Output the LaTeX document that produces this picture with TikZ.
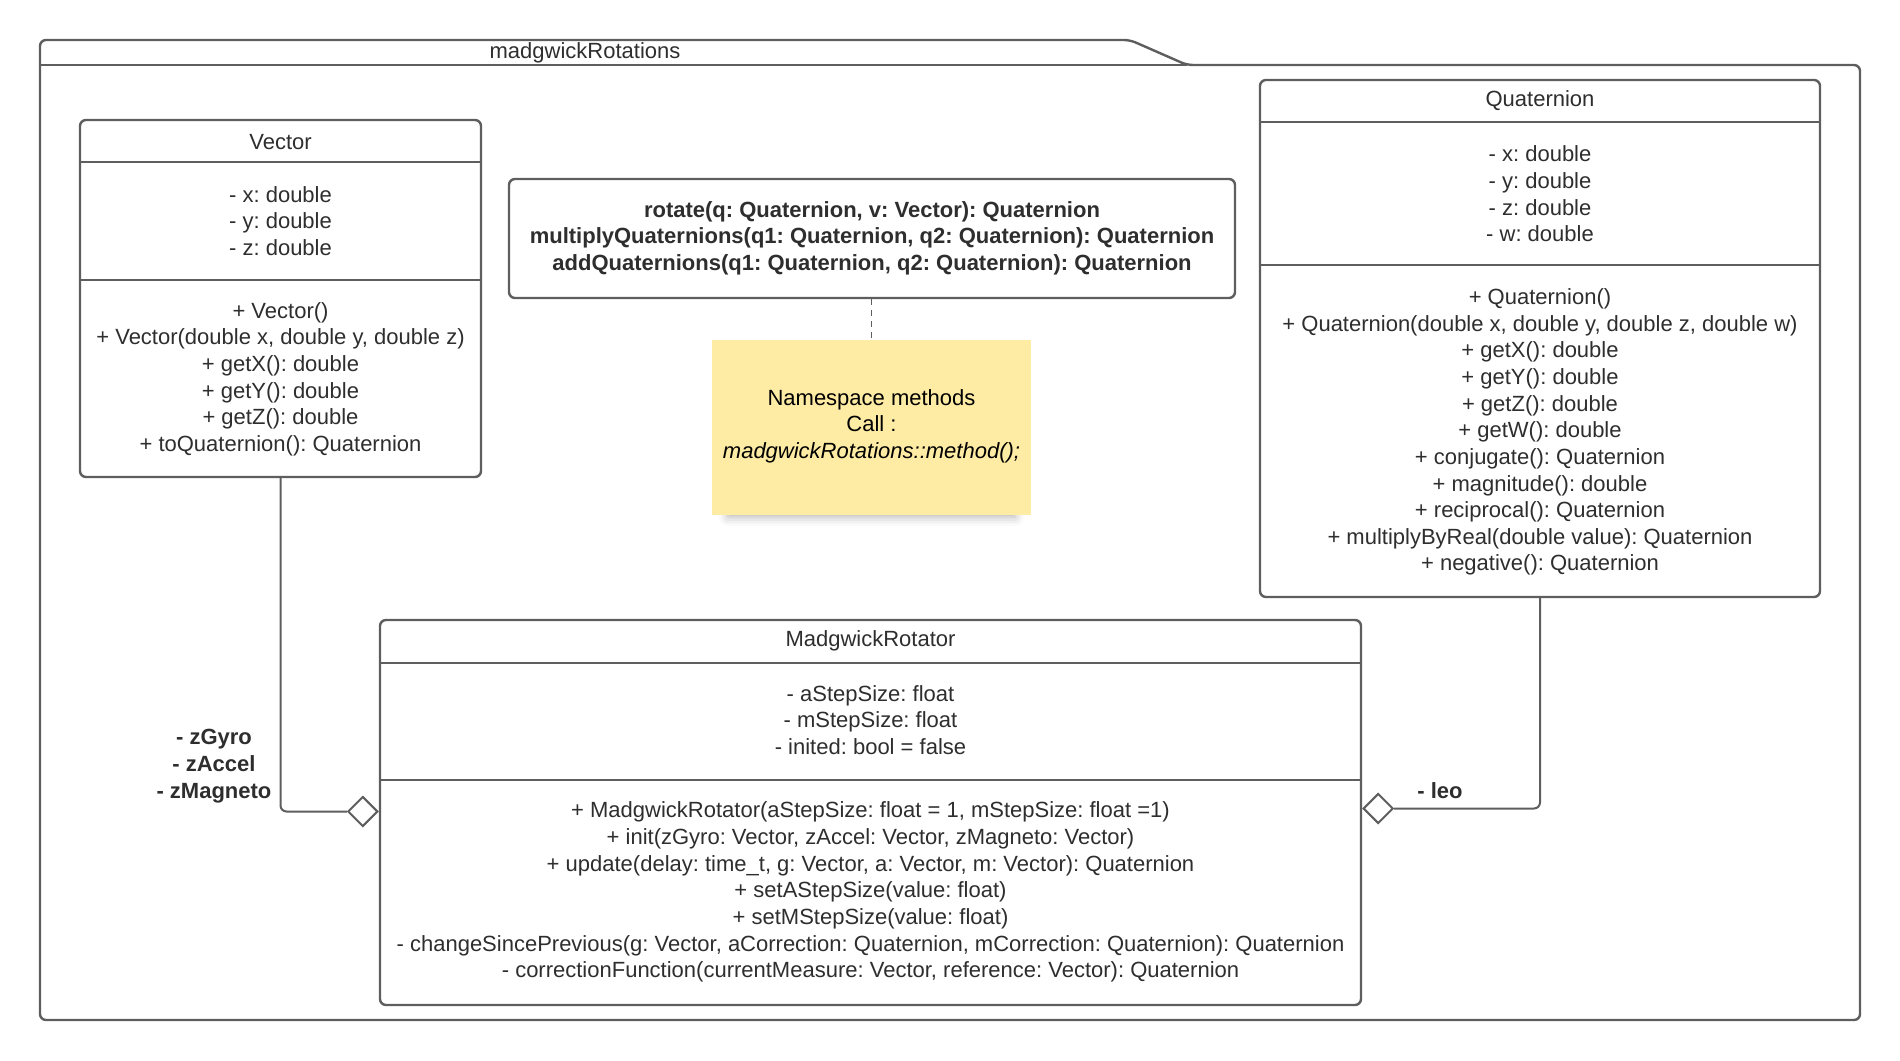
\documentclass[tikz,border=0pt]{standalone}
\usepackage{fontspec}
\setmainfont{Liberation Sans}
\frenchspacing
\usetikzlibrary{positioning}
\usetikzlibrary{fit}
\usetikzlibrary{shapes.geometric}
\usetikzlibrary{shadows.blur}
\definecolor{lgrey}{HTML}{5E5E5E}
\definecolor{ink}{HTML}{2E2E2E}
\definecolor{notey}{HTML}{FEEBA4}
\tikzset{umlbox/.style = {draw=lgrey, line width=1.2pt, rounded corners=3pt, inner sep=0, fill=white}}
\tikzset{divider/.style = {draw=lgrey, line width=1.2pt}}
\tikzset{txt/.style = {text=ink, align=center, inner sep=0, font=\fontsize{11}{13.33}\selectfont}}
\tikzset{boldtxt/.style = {txt, font=\fontsize{11}{13.33}\selectfont\bfseries}}
\tikzset{conn/.style = {draw=lgrey, line width=1pt, rounded corners=3pt}}
\tikzset{aggr/.style = {diamond, draw=lgrey, line width=1pt, fill=white, inner sep=0,
                        minimum width=15pt, minimum height=15pt}}
\tikzset{memo/.style = {fill=notey, inner sep=0,
                        blur shadow={shadow xshift=0pt, shadow yshift=-6pt, shadow scale=0.9,
                                     shadow blur radius=5pt, shadow opacity=30}}}

\begin{document}
\begin{tikzpicture}[x=0.5pt, y=-0.5pt]
    \useasboundingbox (0,0) rectangle (1900,1060);

    % package frame
    \draw [divider, rounded corners=3pt] (40,65) -- (40,40) -- (1130,40) -- (1187,65)
          -- (1860,65) -- (1860,1020) -- (40,1020) -- cycle;
    \draw [divider] (40,65) -- (1187,65);
    \node [txt] (pkgname) at (585,53) {madgwickRotations};

    % Vector
    \node [umlbox, fit={(80,120) (481,477)}] (vector) {};
    \draw [divider] (vector.west |- 0,162) -- (vector.east |- 0,162);
    \draw [divider] (vector.west |- 0,280) -- (vector.east |- 0,280);
    \node [txt] (vectorname) at (280.5,142) {Vector};
    \node [txt] (vectorattr) at (280.5,221) {- x: double\\- y: double\\- z: double};
    \node [txt] (vectorops) at (280.5,379) {+ Vector()\\+ Vector(double x, double y, double z)\\
          + getX(): double\\+ getY(): double\\+ getZ(): double\\+ toQuaternion(): Quaternion};

    % Quaternion
    \node [umlbox, fit={(1260,80) (1820,597)}] (quat) {};
    \draw [divider] (quat.west |- 0,122) -- (quat.east |- 0,122);
    \draw [divider] (quat.west |- 0,265) -- (quat.east |- 0,265);
    \node [txt] (quatname) at (1540,101) {Quaternion};
    \node [txt] (quatattr) at (1540,194) {- x: double\\- y: double\\- z: double\\- w: double};
    \node [txt] (quatops) at (1540,432) {+ Quaternion()\\
          + Quaternion(double x, double y, double z, double w)\\
          + getX(): double\\+ getY(): double\\+ getZ(): double\\+ getW(): double\\
          + conjugate(): Quaternion\\+ magnitude(): double\\+ reciprocal(): Quaternion\\
          + multiplyByReal(double value): Quaternion\\+ negative(): Quaternion};

    % MadgwickRotator
    \node [umlbox, fit={(380,620) (1361,1005)}] (madg) {};
    \draw [divider] (madg.west |- 0,663) -- (madg.east |- 0,663);
    \draw [divider] (madg.west |- 0,780) -- (madg.east |- 0,780);
    \node [txt] (madgname) at (870.5,641) {MadgwickRotator};
    \node [txt] (madgattr) at (870.5,720) {- aStepSize: float\\- mStepSize: float\\- inited: bool = false};
    \node [txt] (madgops) at (870.5,892) {+ MadgwickRotator(aStepSize: float = 1, mStepSize: float =1)\\
          + init(zGyro: Vector, zAccel: Vector, zMagneto: Vector)\\
          + update(delay: time\_t, g: Vector, a: Vector, m: Vector): Quaternion\\
          + setAStepSize(value: float)\\+ setMStepSize(value: float)\\
          - changeSincePrevious(g: Vector, aCorrection: Quaternion, mCorrection: Quaternion): Quaternion\\
          - correctionFunction(currentMeasure: Vector, reference: Vector): Quaternion};

    % namespace functions and note
    \node [umlbox, fit={(509,179) (1235,298)}] (nsbox) {};
    \node [boldtxt] (nsfuncs) at (872,238) {rotate(q: Quaternion, v: Vector): Quaternion\\
          multiplyQuaternions(q1: Quaternion, q2: Quaternion): Quaternion\\
          addQuaternions(q1: Quaternion, q2: Quaternion): Quaternion};
    \node [memo, fit={(712,340) (1031,515)}] (note) {};
    \node [txt, text=black] (notetext) at (871.5,426) {Namespace methods\\Call :\\
          \textit{madgwickRotations::method();}};
    \draw [lgrey, line width=0.6pt, dash pattern=on 3pt off 2.5pt] (nsbox.south -| note.north) -- (note.north);

    % aggregations
    \node [aggr, anchor=east] (aggL) at ([yshift=0.5pt]madg.west) {};
    \node [aggr, anchor=west] (aggR) at ([yshift=2pt]madg.east) {};
    \draw [conn] (vector.south) |- (aggL.west);
    \draw [conn] (quat.south) |- (aggR.east);
    \node [boldtxt] (roleL) at (214,766) {- zGyro\\- zAccel\\- zMagneto};
    \node [boldtxt] (roleR) at (1440,791) {- leo};
\end{tikzpicture}
\end{document}
